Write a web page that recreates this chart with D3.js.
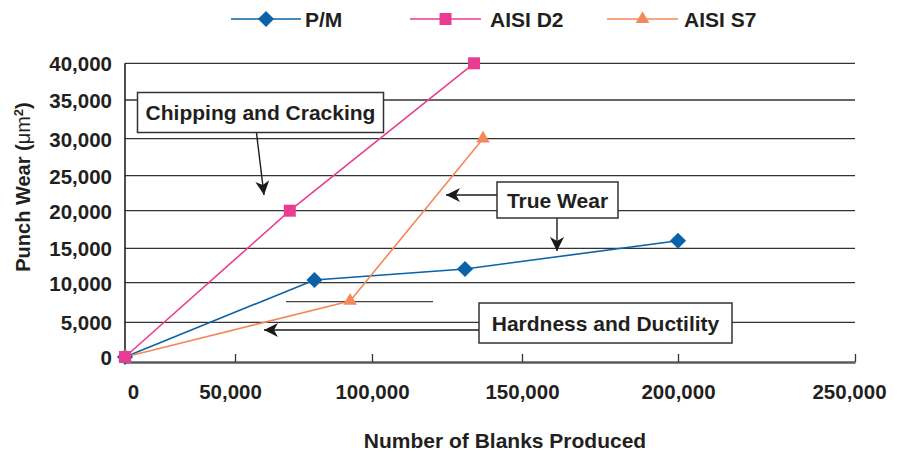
<!DOCTYPE html>
<html>
<head>
<meta charset="utf-8">
<script src="https://cdn.jsdelivr.net/npm/d3@7"></script>
<style>
  html, body { margin: 0; padding: 0; background: #fff; }
  svg { display: block; }
  text { font-family: "Liberation Sans", Arial, Helvetica, sans-serif; font-weight: bold; fill: #231f20; }
</style>
</head>
<body>
<svg id="chart" width="900" height="452"></svg>
<script>
// ---- data ----
const xTicks = [0, 50000, 100000, 150000, 200000, 250000];
const yTicks = [0, 5000, 10000, 15000, 20000, 25000, 30000, 35000, 40000];
const seriesNames = ["P/M", "AISI D2", "AISI S7"];
const pmBlanks = [0, 79000, 131000, 200000];
const pmWear   = [0, 10400, 12000, 16000];
const d2Blanks = [0, 70000, 134000];
const d2Wear   = [0, 20000, 40000];
const s7Blanks = [0, 92000, 137000];
const s7Wear   = [0, 7700, 30000];
const annotationLabels = ["Chipping and Cracking", "True Wear", "Hardness and Ductility"];
const xTitle = "Number of Blanks Produced";

// ---- layout ----
const svg = d3.select("#chart");
const colors = { "P/M": "#0b62a6", "AISI D2": "#ea3d91", "AISI S7": "#f5875a" };
const x = d3.scaleLinear().domain(xTicks).range([125, 235, 372, 522, 678, 855]);
const y = d3.scaleLinear().domain(yTicks).range([357, 322.3, 282.7, 248.3, 210.7, 175.7, 138.7, 100, 63.3]);
const axisY = 362;
const plotLeft = x(0), plotRight = x(250000);

// gridlines
svg.append("g").selectAll("line").data(yTicks.slice(1)).join("line")
  .attr("x1", plotLeft).attr("x2", plotRight)
  .attr("y1", d => y(d)).attr("y2", d => y(d))
  .attr("stroke", "#333").attr("stroke-width", 1.3);

// y axis
const yAxis = svg.append("g").attr("transform", `translate(${plotLeft},0)`)
  .call(d3.axisLeft(y).tickValues(yTicks).tickSize(0).tickPadding(13).tickFormat(d3.format(",")));
yAxis.select(".domain").remove();
yAxis.selectAll("text").style("font-size", "20.5px").attr("dy", "0.36em")
  .style("font-family", '"Liberation Sans", Arial, sans-serif').style("font-weight", "bold").attr("fill", "#231f20");
svg.append("line").attr("x1", plotLeft).attr("x2", plotLeft).attr("y1", y(40000)).attr("y2", axisY)
  .attr("stroke", "#222").attr("stroke-width", 1.6);

// x axis
const xAxis = svg.append("g").attr("transform", `translate(0,${axisY})`)
  .call(d3.axisBottom(x).tickValues(xTicks).tickSizeInner(-8).tickSizeOuter(0).tickPadding(22.5).tickFormat(d3.format(",")));
xAxis.select(".domain").attr("stroke", "#5a5a5a").attr("stroke-width", 2.6);
xAxis.selectAll(".tick line").attr("stroke", "#333").attr("stroke-width", 1.3);
xAxis.selectAll("text").style("font-size", "20.5px")
  .style("font-family", '"Liberation Sans", Arial, sans-serif').style("font-weight", "bold").attr("fill", "#231f20")
  .attr("dx", d => d === 0 ? 8 : (d === 50000 ? -5 : (d === 250000 ? -6 : 0)));

// axis titles
svg.append("text").attr("x", 505).attr("y", 448).attr("text-anchor", "middle")
  .style("font-size", "21px").text(xTitle);
const yt = svg.append("text").attr("transform", "translate(30,187) rotate(-90)")
  .attr("text-anchor", "middle").style("font-size", "20px");
yt.append("tspan").text("Punch Wear (");
yt.append("tspan").style("font-weight", "normal").text("\u03BCm");
yt.append("tspan").attr("baseline-shift", "super").style("font-size", "13px").text("2");
yt.append("tspan").text(")");

// arrow marker
const defs = svg.append("defs");
defs.append("marker").attr("id", "arrow").attr("markerUnits", "userSpaceOnUse")
  .attr("markerWidth", 20).attr("markerHeight", 20).attr("viewBox", "-16 -10 20 20")
  .attr("refX", 0).attr("refY", 0).attr("orient", "auto")
  .append("path").attr("d", "M0,0 L-14,-7 L-10,0 L-14,7 Z").attr("fill", "#1a1a1a");

// stray line
svg.append("line").attr("x1", 286).attr("x2", 433).attr("y1", 301.7).attr("y2", 301.7)
  .attr("stroke", "#444").attr("stroke-width", 1.3);

// arrows
const arrows = [
  [256.5, 133, 264, 195],
  [497, 195, 446, 195],
  [557, 218, 557, 251],
  [479, 330, 264, 330]
];
svg.append("g").selectAll("line").data(arrows).join("line")
  .attr("x1", d => d[0]).attr("y1", d => d[1]).attr("x2", d => d[2]).attr("y2", d => d[3])
  .attr("stroke", "#1a1a1a").attr("stroke-width", 1.4).attr("marker-end", "url(#arrow)");

// annotation boxes
const boxes = [
  { label: annotationLabels[0], x: 137.5, y: 92.5, w: 246, h: 40 },
  { label: annotationLabels[1], x: 497, y: 182, w: 121, h: 36 },
  { label: annotationLabels[2], x: 479, y: 303, w: 253, h: 40 }
];
const bg = svg.append("g").selectAll("g").data(boxes).join("g");
bg.append("rect").attr("x", d => d.x).attr("y", d => d.y).attr("width", d => d.w).attr("height", d => d.h)
  .attr("fill", "#fff").attr("stroke", "#333").attr("stroke-width", 1.5);
bg.append("text").attr("x", d => d.x + d.w / 2).attr("y", d => d.y + d.h / 2).attr("dy", "0.36em")
  .attr("text-anchor", "middle").style("font-size", "21px").text(d => d.label);

// series
const series = [
  { name: seriesNames[0], xs: pmBlanks, ys: pmWear, sym: "diamond" },
  { name: seriesNames[2], xs: s7Blanks, ys: s7Wear, sym: "triangle" },
  { name: seriesNames[1], xs: d2Blanks, ys: d2Wear, sym: "square" }
];
const line = d3.line().x(d => x(d[0])).y(d => y(d[1]));
function symbolPath(sym) {
  if (sym === "diamond") return d3.symbol().type(d3.symbolSquare).size(130)();
  if (sym === "square") return d3.symbol().type(d3.symbolSquare).size(144)();
  return d3.symbol().type(d3.symbolTriangle).size(80)();
}
const lineG = svg.append("g"), markG = svg.append("g");
series.forEach(s => {
  const pts = s.xs.map((v, i) => [v, s.ys[i]]);
  lineG.append("path").datum(pts).attr("d", line).attr("fill", "none")
    .attr("stroke", colors[s.name]).attr("stroke-width", 1.6);
  markG.selectAll(null).data(pts).join("path")
    .attr("d", symbolPath(s.sym))
    .attr("transform", d => `translate(${x(d[0])},${y(d[1])})` + (s.sym === "diamond" ? " rotate(45)" : ""))
    .attr("fill", colors[s.name]);
});

// legend
const legendItems = [
  { name: seriesNames[0], sym: "diamond", x0: 231, x1: 301, tx: 305 },
  { name: seriesNames[1], sym: "square", x0: 410, x1: 481, tx: 490 },
  { name: seriesNames[2], sym: "triangle", x0: 607, x1: 678, tx: 684 }
];
const lg = svg.append("g").selectAll("g").data(legendItems).join("g");
lg.append("line").attr("x1", d => d.x0).attr("x2", d => d.x1).attr("y1", 19).attr("y2", 19)
  .attr("stroke", d => colors[d.name]).attr("stroke-width", 1.6);
lg.append("path").attr("d", d => symbolPath(d.sym))
  .attr("transform", d => `translate(${(d.x0 + d.x1) / 2},19)` + (d.sym === "diamond" ? " rotate(45)" : ""))
  .attr("fill", d => colors[d.name]);
lg.append("text").attr("x", d => d.tx).attr("y", 19).attr("dy", "0.36em")
  .style("font-size", "21px").text(d => d.name);
</script>
</body>
</html>
